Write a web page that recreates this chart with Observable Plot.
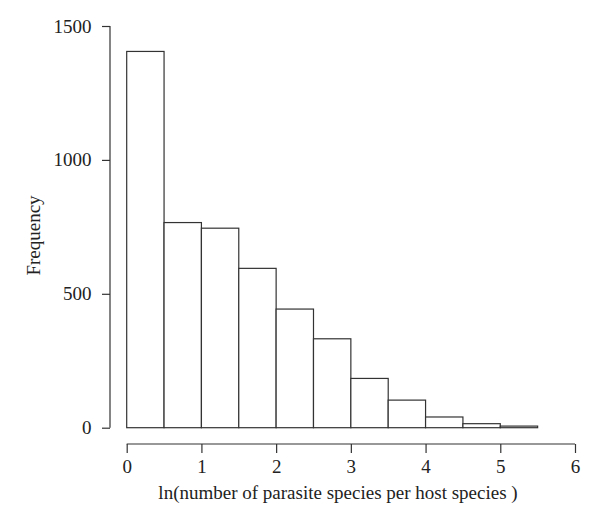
<!DOCTYPE html>
<html>
<head>
<meta charset="utf-8">
<script src="https://cdn.jsdelivr.net/npm/d3@7"></script>
<script src="https://cdn.jsdelivr.net/npm/@observablehq/plot@0.6"></script>
<style>
  html, body { margin: 0; padding: 0; background: #fff; }
</style>
</head>
<body>
<div id="chart"></div>
<script>
// Histogram bins (lower edges) and frequencies
const binStart = [0, 0.5, 1, 1.5, 2, 2.5, 3, 3.5, 4, 4.5, 5];
const binWidth = 0.5;
const counts = [1405, 766, 745, 595, 443, 332, 184, 103, 40, 15, 6];
const xTicks = [0, 1, 2, 3, 4, 5, 6];
const yTicks = [0, 500, 1000, 1500];
const xTitle = "ln(number of parasite species per host species )";
const yTitle = "Frequency";

const bins = binStart.map((s, i) => ({x1: s, x2: s + binWidth, count: counts[i]}));

const ink = "#333";
const fontFamily = "'Liberation Serif', 'DejaVu Serif', serif";

// R-style axis lines spanning first to last tick
const axisLines = (index, scales, values, dim) => {
  const svg = d3.create("svg:g").attr("stroke", ink).attr("stroke-width", 1.2).attr("fill", "none");
  const xl = dim.marginLeft;
  const yb = dim.height - dim.marginBottom;
  svg.append("line")
    .attr("x1", xl).attr("x2", xl)
    .attr("y1", scales.y(yTicks[0])).attr("y2", scales.y(yTicks[yTicks.length - 1]));
  svg.append("line")
    .attr("y1", yb).attr("y2", yb)
    .attr("x1", scales.x(xTicks[0])).attr("x2", scales.x(xTicks[xTicks.length - 1]));
  return svg.node();
};

const chart = Plot.plot({
  width: 600,
  height: 527,
  marginLeft: 110,
  marginRight: 25,
  marginTop: 26,
  marginBottom: 83,
  style: {fontFamily, fontSize: "19px", color: ink, background: "#fff"},
  x: {domain: [0, 6], insetLeft: 16.7},
  y: {domain: [0, 1500], insetBottom: 16.3},
  marks: [
    Plot.rectY(bins, {x1: "x1", x2: "x2", y: "count", fill: "white", stroke: ink, strokeWidth: 1.2}),
    Plot.axisX({ticks: xTicks, tickFormat: d => String(d), tickSize: 9, tickPadding: 6, stroke: ink, strokeWidth: 1.2, fill: "#222",
      fontSize: 19, fontFamily, label: null}),
    Plot.axisY({ticks: yTicks, tickFormat: d => String(d), tickSize: 8, tickPadding: 11, stroke: ink, strokeWidth: 1.2, fill: "#222",
      fontSize: 19, fontFamily,
      label: yTitle, labelAnchor: "center", labelArrow: "none", labelOffset: 84}),
    Plot.text([xTitle], {text: d => d, frameAnchor: "bottom", lineAnchor: "top", dy: 41, dx: -5,
      fontSize: 19, fontFamily, fill: "#222"}),
    axisLines
  ]
});

document.getElementById("chart").appendChild(chart);
</script>
</body>
</html>
